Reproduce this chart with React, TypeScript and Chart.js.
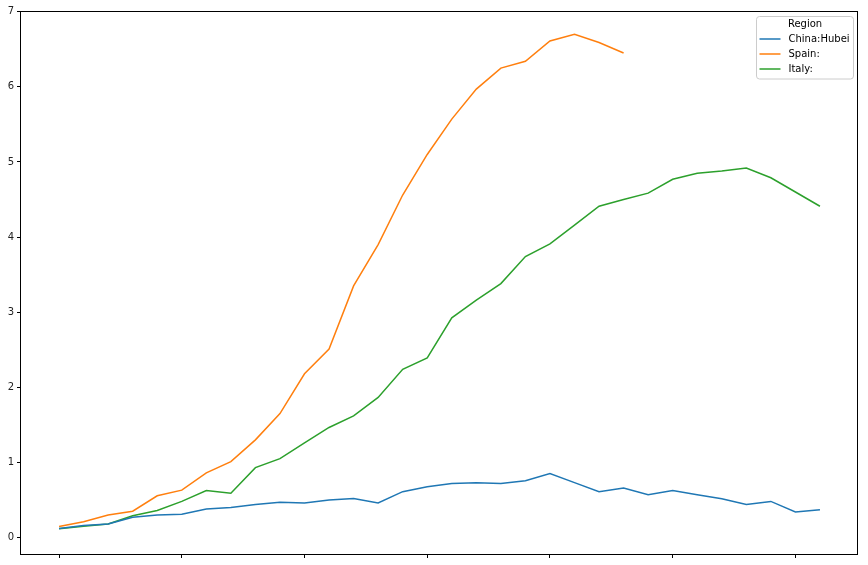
import React, { useEffect, useRef } from "react";
import { Chart, registerables } from "chart.js";

Chart.register(...registerables);

const days = [0, 1, 2, 3, 4, 5, 6, 7, 8, 9, 10, 11, 12, 13, 14, 15, 16, 17, 18, 19, 20, 21, 22, 23, 24, 25, 26, 27, 28, 29, 30, 31];

const hubei = [0.12, 0.16, 0.18, 0.27, 0.3, 0.31, 0.38, 0.4, 0.44, 0.47, 0.46, 0.5, 0.52, 0.46, 0.61, 0.675, 0.72, 0.73, 0.72, 0.755, 0.85, 0.73, 0.61, 0.66, 0.57, 0.625, 0.57, 0.515, 0.44, 0.48, 0.34, 0.37];

const spain = [0.146, 0.21, 0.3, 0.35, 0.555, 0.63, 0.86, 1.01, 1.3, 1.65, 2.18, 2.51, 3.35, 3.9, 4.56, 5.1, 5.57, 5.97, 6.25, 6.34, 6.61, 6.7, 6.59, 6.45];

const italy = [0.115, 0.15, 0.18, 0.29, 0.36, 0.48, 0.625, 0.59, 0.93, 1.05, 1.26, 1.465, 1.62, 1.865, 2.24, 2.39, 2.925, 3.16, 3.38, 3.74, 3.91, 4.16, 4.41, 4.5, 4.585, 4.77, 4.85, 4.88, 4.92, 4.79, 4.6, 4.41];

const seriesNames = ["China:Hubei", "Spain:", "Italy:"];
const seriesColors = ["#1f77b4", "#ff7f0e", "#2ca02c"];
const legendTitle = "Region";
const xTicks = [0, 5, 10, 15, 20, 25, 30];
const yTicks = [0, 1, 2, 3, 4, 5, 6, 7];

const FONT = "DejaVu Sans";

function toPoints(vals: number[]) {
  return vals.map((v, i) => ({ x: days[i], y: v }));
}

const framePlugin = {
  id: "frameAndLegend",
  afterDraw(chart: any) {
    const { ctx, chartArea } = chart;
    ctx.save();
    ctx.strokeStyle = "#000";
    ctx.lineWidth = 1;
    ctx.strokeRect(
      Math.round(chartArea.left) - 0.5,
      Math.round(chartArea.top) + 0.5,
      Math.round(chartArea.right - chartArea.left),
      Math.round(chartArea.bottom - chartArea.top)
    );

    // legend
    const lx = 756.5, ly = 16.5, lw = 97, lh = 62.5;
    ctx.beginPath();
    (ctx as any).roundRect(lx, ly, lw, lh, 3);
    ctx.fillStyle = "rgba(255,255,255,0.8)";
    ctx.fill();
    ctx.strokeStyle = "#cccccc";
    ctx.lineWidth = 1;
    ctx.stroke();

    ctx.font = `10px "${FONT}"`;
    ctx.fillStyle = "#000";
    ctx.textBaseline = "middle";
    ctx.textAlign = "center";
    ctx.fillText(legendTitle, 805, 24.5);
    ctx.textAlign = "left";
    const rows = [39, 54, 69];
    seriesNames.forEach((name, i) => {
      ctx.strokeStyle = seriesColors[i];
      ctx.lineWidth = 1.5;
      ctx.beginPath();
      ctx.moveTo(759.5, rows[i]);
      ctx.lineTo(780.5, rows[i]);
      ctx.stroke();
      ctx.fillStyle = "#000";
      ctx.fillText(name, 788.5, rows[i]);
    });
    ctx.restore();
  },
};

export default function App() {
  const ref = useRef<HTMLCanvasElement | null>(null);

  useEffect(() => {
    document.body.style.margin = "0";
    const canvas = ref.current;
    if (!canvas) return;
    const data = [hubei, spain, italy];
    const chart = new Chart(canvas, {
      type: "line",
      data: {
        datasets: seriesNames.map((name, i) => ({
          label: name,
          data: toPoints(data[i]),
          borderColor: seriesColors[i],
          backgroundColor: seriesColors[i],
          borderWidth: 1.5,
          pointRadius: 0,
          tension: 0,
          fill: false,
        })),
      },
      options: {
        responsive: false,
        animation: false,
        devicePixelRatio: 1,
        layout: { padding: { top: 11, right: 10, left: 0, bottom: 0 } },
        plugins: {
          legend: { display: false },
          tooltip: { enabled: false },
        },
        scales: {
          x: {
            type: "linear",
            min: -1.55,
            max: 32.55,
            afterBuildTicks: (scale: any) => {
              scale.ticks = xTicks.map((v) => ({ value: v }));
            },
            afterFit: (scale: any) => {
              scale.height = 11;
            },
            border: { display: false },
            grid: {
              drawOnChartArea: false,
              drawTicks: true,
              tickLength: 4,
              color: "#000",
              lineWidth: 1,
            },
            ticks: {
              callback: () => "",
              maxRotation: 0,
              autoSkip: false,
            },
          },
          y: {
            type: "linear",
            min: -0.22,
            max: 7.01,
            afterBuildTicks: (scale: any) => {
              scale.ticks = yTicks.map((v) => ({ value: v }));
            },
            afterFit: (scale: any) => {
              scale.width = 21;
            },
            border: { display: false },
            grid: {
              drawOnChartArea: false,
              drawTicks: true,
              tickLength: 4,
              color: "#000",
              lineWidth: 1,
            },
            ticks: {
              color: "#222",
              padding: 3,
              font: { family: FONT, size: 10 },
              callback: (v: any) => String(v),
              autoSkip: false,
            },
          },
        },
      },
      plugins: [framePlugin],
    } as any);
    return () => chart.destroy();
  }, []);

  return (
    <div style={{ position: "relative", width: 868, height: 565 }}>
      <canvas ref={ref} width={868} height={565} style={{ width: 868, height: 565, display: "block" }} />
    </div>
  );
}
